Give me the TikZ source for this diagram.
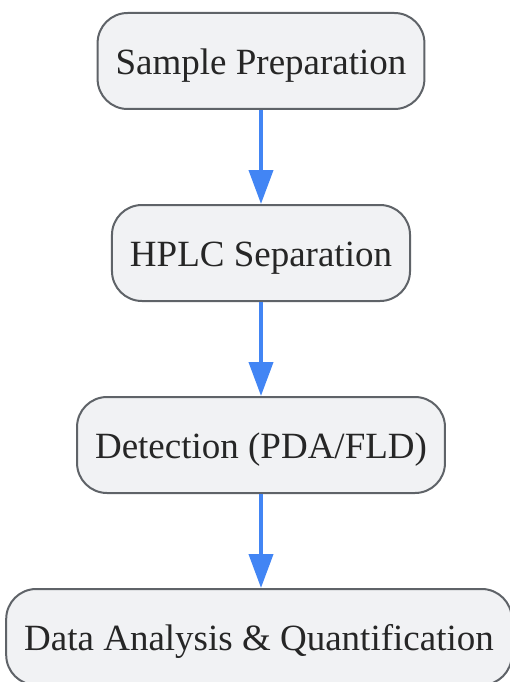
\documentclass[tikz,border=0pt]{standalone}
\usepackage{fontspec}
\setmainfont{Liberation Serif}
\usetikzlibrary{arrows.meta}

\definecolor{rahmen}{RGB}{95,99,104}
\definecolor{fuellung}{RGB}{241,242,244}
\definecolor{pfeilblau}{RGB}{66,133,244}

\begin{document}
\begin{tikzpicture}[
    x=1pt, y=-1pt,
    schritt/.style={
      rectangle,
      rounded corners=30pt,
      draw=rahmen,
      fill=fuellung,
      line width=2pt,
      minimum height=96pt,
      inner xsep=18pt,
      text height=27pt,
      text depth=0pt,
      text=black!85,
      font=\fontsize{37}{44}\selectfont},
    pfeil/.style={
      color=pfeilblau,
      line width=4pt,
      -{Triangle[length=34pt,width=24pt]}}
    ]

  \useasboundingbox (0,0) rectangle (510,682);

  \node at (261,61) (schritt0) [schritt] {Sample Preparation};
  \node at (261,253) (schritt1) [schritt] {HPLC Separation};
  \node at (261,445) (schritt2) [schritt] {Detection (PDA/FLD)};
  \node at (259,637) (schritt3) [schritt] {Data Analysis \& Quantification};

  \path[pfeil]
        (schritt0) edge (schritt1)
        (schritt1) edge (schritt2)
        (schritt2) edge (schritt2.south |- schritt3.north)
   ;

\end{tikzpicture}
\end{document}
